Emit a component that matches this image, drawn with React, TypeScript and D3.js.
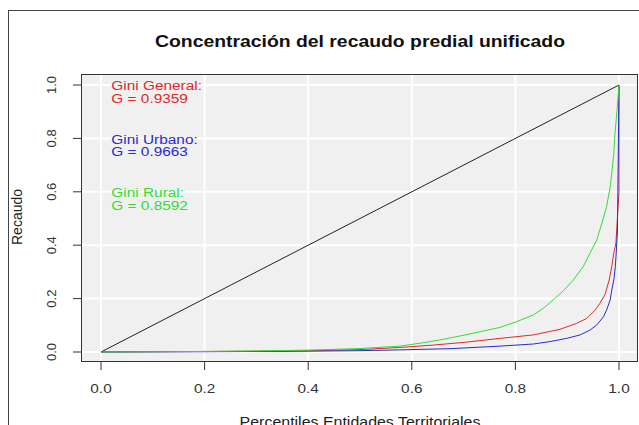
import React from "react"
import * as d3 from "d3"

// Lorenz curves (x = percentile, y = share of recaudo)
const generalX = [0, 0.1, 0.2, 0.3, 0.4, 0.5, 0.577, 0.642, 0.706, 0.77, 0.835, 0.886, 0.918, 0.938, 0.954, 0.963, 0.973, 0.981, 0.986, 0.99, 0.994, 1, 1]
const generalY = [0, 0.001, 0.002, 0.003, 0.005, 0.009, 0.017, 0.026, 0.037, 0.051, 0.064, 0.085, 0.107, 0.126, 0.157, 0.182, 0.215, 0.27, 0.32, 0.37, 0.408, 0.6, 1]

const urbanoX = [0, 0.2, 0.4, 0.5, 0.577, 0.674, 0.77, 0.835, 0.867, 0.899, 0.925, 0.944, 0.957, 0.97, 0.976, 0.983, 0.986, 0.99, 0.993, 0.997, 1]
const urbanoY = [0, 0.001, 0.003, 0.005, 0.008, 0.0125, 0.022, 0.03, 0.039, 0.051, 0.064, 0.082, 0.101, 0.132, 0.157, 0.195, 0.232, 0.27, 0.32, 0.45, 1]

const ruralX = [0, 0.1, 0.2, 0.3, 0.4, 0.5, 0.577, 0.616, 0.654, 0.693, 0.732, 0.77, 0.803, 0.835, 0.854, 0.873, 0.893, 0.912, 0.931, 0.944, 0.957, 0.967, 0.976, 0.983, 0.986, 0.99, 0.992, 0.996, 1]
const ruralY = [0, 0.001, 0.002, 0.004, 0.007, 0.013, 0.022, 0.033, 0.045, 0.06, 0.076, 0.092, 0.114, 0.139, 0.164, 0.195, 0.23, 0.27, 0.32, 0.37, 0.419, 0.482, 0.544, 0.619, 0.669, 0.744, 0.813, 0.9, 1]

const diagX = [0, 1]
const diagY = [0, 1]

const ticks = [0, 0.2, 0.4, 0.6, 0.8, 1]

const labels = [
  { name: "Gini General:", g: "G = 0.9359", y: 0.98, color: "#dd2a2a" },
  { name: "Gini Urbano:", g: "G = 0.9663", y: 0.78, color: "#2a2acc" },
  { name: "Gini Rural:", g: "G = 0.8592", y: 0.58, color: "#33dd33" },
]

const width = 639
const height = 425
const panel = { left: 81, right: 638, top: 74, bottom: 362 }
const font = "'Liberation Sans', Arial, sans-serif"
// the source image is stretched sideways a little
const sx = 1.14

export default function App() {
  const x = d3.scaleLinear().domain([0, 1]).range([101, 619])
  const y = d3.scaleLinear().domain([0, 1]).range([352, 85])

  const line = d3
    .line<[number, number]>()
    .x(d => x(d[0]))
    .y(d => y(d[1]))

  const zip = (xs: number[], ys: number[]) => xs.map((v, i) => [v, ys[i]] as [number, number])

  const series = [
    { xs: diagX, ys: diagY, color: "#222" },
    { xs: generalX, ys: generalY, color: "#dd2a2a" },
    { xs: urbanoX, ys: urbanoY, color: "#2a2acc" },
    { xs: ruralX, ys: ruralY, color: "#33dd33" },
  ]

  return (
    <svg
      width={width}
      height={height}
      style={{ position: "absolute", left: 0, top: 0, background: "#fff" }}
      fontFamily={font}
    >
      <rect x={8.5} y={10.5} width={700} height={500} fill="none" stroke="#444" />

      <rect
        x={panel.left}
        y={panel.top}
        width={panel.right - panel.left}
        height={panel.bottom - panel.top}
        fill="#f0f0f0"
      />
      {ticks.map(t => (
        <g key={"g" + t}>
          <line x1={x(t)} x2={x(t)} y1={panel.top} y2={panel.bottom} stroke="#fff" strokeWidth={2} />
          <line x1={panel.left} x2={panel.right} y1={y(t)} y2={y(t)} stroke="#fff" strokeWidth={2} />
        </g>
      ))}

      {series.map((s, i) => (
        <path key={i} d={line(zip(s.xs, s.ys)) || ""} fill="none" stroke={s.color} strokeWidth={1} />
      ))}

      <rect
        x={panel.left + 0.5}
        y={panel.top + 0.5}
        width={panel.right - panel.left - 1}
        height={panel.bottom - panel.top - 1}
        fill="none"
        stroke="#333"
      />

      {ticks.map(t => (
        <g key={"x" + t}>
          <line x1={x(t)} x2={x(t)} y1={panel.bottom} y2={panel.bottom + 8} stroke="#333" />
          <text
            transform={`translate(${x(t)},393) scale(${sx},1)`}
            textAnchor="middle"
            fontSize={13.5}
            fill="#333"
          >
            {t.toFixed(1)}
          </text>
          <line x1={panel.left - 8} x2={panel.left} y1={y(t)} y2={y(t)} stroke="#333" />
          <text
            transform={`translate(56,${y(t)}) rotate(-90)`}
            textAnchor="middle"
            fontSize={13}
            fill="#333"
          >
            {t.toFixed(1)}
          </text>
        </g>
      ))}

      {labels.map(l => (
        <g key={l.name} transform={`translate(${x(0.02)},${y(l.y)}) scale(${sx},1)`} fill={l.color}>
          <text y={0} fontSize={13.5}>{l.name}</text>
          <text y={12.7} fontSize={13.5}>{l.g}</text>
        </g>
      ))}

      <text
        transform={`translate(360,47) scale(${sx},1)`}
        textAnchor="middle"
        fontSize={17}
        fontWeight="bold"
        fill="#111"
      >
        Concentración del recaudo predial unificado
      </text>
      <text
        transform={`translate(360,427) scale(${sx},1)`}
        textAnchor="middle"
        fontSize={14}
        fill="#222"
      >
        Percentiles Entidades Territoriales
      </text>
      <text transform="translate(22,217) rotate(-90)" textAnchor="middle" fontSize={14} fill="#222">
        Recaudo
      </text>
    </svg>
  )
}
